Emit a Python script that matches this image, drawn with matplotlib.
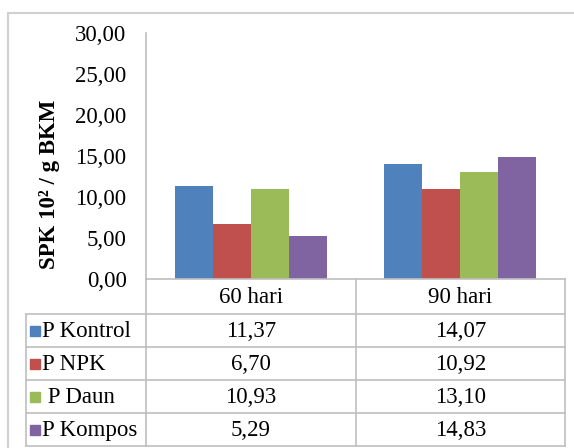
import matplotlib
matplotlib.use("Agg")
import matplotlib.pyplot as plt
import numpy as np
from matplotlib.patches import Rectangle
from matplotlib.lines import Line2D

# data
categories = ["60 hari", "90 hari"]
series_names = ["P Kontrol", "P NPK", " P Daun", "P Kompos"]
series_values = [
    [11.37, 14.07],
    [6.70, 10.92],
    [10.93, 13.10],
    [5.29, 14.83],
]
colors = ["#4F81BD", "#C0504D", "#9BBB59", "#8064A2"]
y_ticks = [0, 5, 10, 15, 20, 25, 30]

plt.rcParams["font.family"] = ["Liberation Serif", "DejaVu Serif"]

W, H = 574, 448
fig = plt.figure(figsize=(W / 100, H / 100), dpi=100)
line_col = "#BFBFBF"
fs = 16.5


def fx(px):
    return px / W


def fy(py):
    return 1 - py / H


# plot area in pixel terms
left, right, top, bottom = 146, 565, 33, 279
ax = fig.add_axes([fx(left), fy(bottom), fx(right) - fx(left), fy(top) - fy(bottom)])

n_series = len(series_values)
gap = 1.5  # gap between groups, in bar widths
bar_w = 1 / (n_series + gap)
x = np.arange(len(categories))
for i, (vals, c) in enumerate(zip(series_values, colors)):
    offs = (i - (n_series - 1) / 2) * bar_w
    ax.bar(x + offs, vals, width=bar_w, color=c, edgecolor="none", zorder=2)

ax.set_xlim(-0.5, len(categories) - 0.5)
ax.set_ylim(0, 30)
ax.set_yticks(y_ticks)
ax.set_yticklabels([f"{t:.2f}".replace(".", ",") for t in y_ticks], fontsize=fs)
ax.tick_params(axis="y", length=0, pad=14)
ax.set_xticks([])
for s in ["top", "right"]:
    ax.spines[s].set_visible(False)
ax.spines["left"].set_color(line_col)
ax.spines["bottom"].set_color(line_col)
ax.spines["left"].set_linewidth(1.2)
ax.spines["bottom"].set_linewidth(1.2)
ax.patch.set_alpha(0)

fig.text(fx(49), fy(184), "SPK 10² / g BKM", rotation=90, ha="center", va="center",
         fontsize=16.5, fontweight="bold")

# data table under the plot
col_edges = [146, 356, 565]
row_edges = [279, 314, 347, 380, 413, 446]
tbl_left = 26


def hline(y, x0, x1):
    fig.add_artist(Line2D([fx(x0), fx(x1)], [fy(y), fy(y)], color=line_col, lw=1.2))


def vline(xp, y0, y1):
    fig.add_artist(Line2D([fx(xp), fx(xp)], [fy(y0), fy(y1)], color=line_col, lw=1.2))


for y in row_edges[1:]:
    hline(y, tbl_left, col_edges[-1])
for xp in col_edges:
    vline(xp, row_edges[0], row_edges[-1])
vline(tbl_left, row_edges[1], row_edges[-1])

# outer chart border
fig.add_artist(Line2D([fx(8), fx(8)], [fy(13), 0], color="#D0D0D0", lw=1.5))
fig.add_artist(Line2D([fx(8), 1], [fy(13), fy(13)], color="#D0D0D0", lw=1.5))

for j, cat in enumerate(categories):
    cx = (col_edges[j] + col_edges[j + 1]) / 2
    cy = (row_edges[0] + row_edges[1]) / 2
    fig.text(fx(cx), fy(cy + 1), cat, ha="center", va="center", fontsize=fs)

for i, (name, vals, c) in enumerate(zip(series_names, series_values, colors)):
    cy = (row_edges[i + 1] + row_edges[i + 2]) / 2
    fig.add_artist(Rectangle((fx(30), fy(cy + 5)), fx(10), 10 / H, color=c,
                             transform=fig.transFigure))
    fig.text(fx(42), fy(cy + 1), name, ha="left", va="center", fontsize=fs)
    for j, v in enumerate(vals):
        cx = (col_edges[j] + col_edges[j + 1]) / 2
        fig.text(fx(cx), fy(cy + 1), f"{v:.2f}".replace(".", ","), ha="center",
                 va="center", fontsize=fs)

fig.savefig("out.png", dpi=100)
